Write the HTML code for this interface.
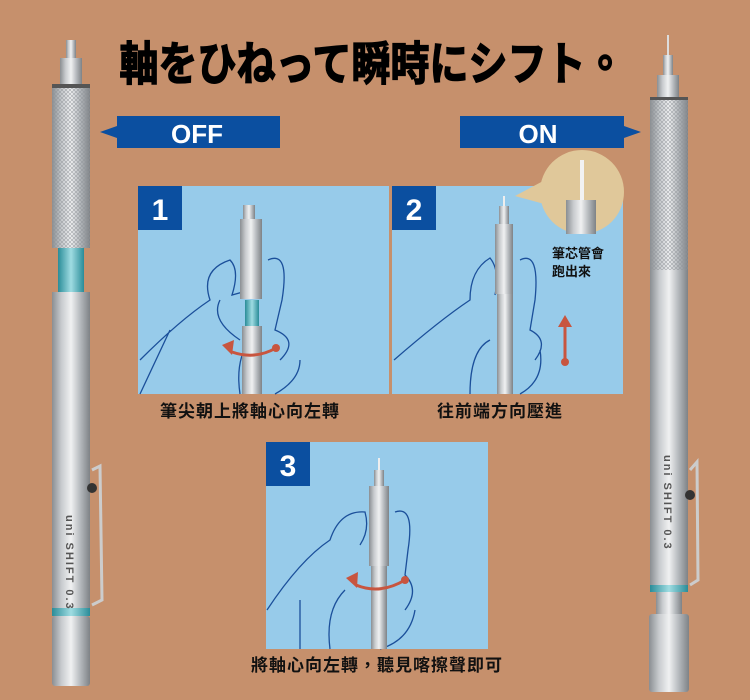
<!DOCTYPE html>
<html><head><meta charset="utf-8"><style>
html,body{margin:0;padding:0;background:#c6906c;}
svg{display:block}
.t{font-family:"Liberation Sans","Noto Sans CJK TC",sans-serif;}
</style></head><body>
<svg width="750" height="700" viewBox="0 0 750 700" xmlns="http://www.w3.org/2000/svg">
<defs>
<linearGradient id="metal" x1="0" x2="1" y1="0" y2="0">
<stop offset="0" stop-color="#8a8e92"/><stop offset="0.25" stop-color="#c8cbce"/><stop offset="0.5" stop-color="#f0f1f2"/><stop offset="0.75" stop-color="#b4b8bc"/><stop offset="1" stop-color="#7e8286"/></linearGradient>
<linearGradient id="teal" x1="0" x2="1"><stop offset="0" stop-color="#2a8c98"/><stop offset="0.5" stop-color="#9fdce2"/><stop offset="1" stop-color="#2a8c98"/></linearGradient>
<pattern id="knurl" width="4" height="4" patternUnits="userSpaceOnUse"><path d="M0 0L4 4M4 0L0 4" stroke="#8f9398" stroke-width="0.6"/></pattern>
</defs>
<rect width="750" height="700" fill="#c6906c"/>
<text x="372" y="80" class="t" font-size="46" font-weight="bold" text-anchor="middle" fill="#000" stroke="#000" stroke-width="1.5" textLength="505" lengthAdjust="spacingAndGlyphs">軸をひねって瞬時にシフト。</text>

<polygon points="117,116 280,116 280,148 117,148 117,138 100,132 117,126" fill="#0b4fa0"/>
<text x="197" y="143" class="t" font-size="26" font-weight="bold" fill="#fff" text-anchor="middle">OFF</text>
<polygon points="460,116 624,116 624,126 641,132 624,138 624,148 460,148" fill="#0b4fa0"/>
<text x="538" y="143" class="t" font-size="26" font-weight="bold" fill="#fff" text-anchor="middle">ON</text>

<g>
<rect x="66" y="40" width="10" height="18" fill="url(#metal)"/>
<rect x="60" y="58" width="22" height="26" fill="url(#metal)"/>
<rect x="52" y="84" width="38" height="4" fill="#555"/>
<rect x="52" y="88" width="38" height="160" fill="url(#metal)"/><rect x="52" y="88" width="38" height="160" fill="url(#knurl)" opacity="0.8"/>
<rect x="58" y="248" width="26" height="44" fill="url(#teal)"/>
<rect x="52" y="292" width="38" height="316" fill="url(#metal)"/>
<rect x="52" y="608" width="38" height="8" fill="url(#teal)"/>
<rect x="52" y="616" width="38" height="70" rx="3" fill="url(#metal)"/>
<path d="M92 470 L100 466 L102 600 L92 605" fill="none" stroke="#ccc" stroke-width="3"/>
<circle cx="92" cy="488" r="5" fill="#333"/>
<text class="t" font-size="11" font-weight="bold" fill="#555" transform="translate(66,515) rotate(90)" letter-spacing="2">uni SHIFT 0.3</text>
</g>
<g>
<rect x="667" y="35" width="2" height="20" fill="#ddd"/>
<rect x="663" y="55" width="10" height="20" fill="url(#metal)"/>
<rect x="657" y="75" width="22" height="22" fill="url(#metal)"/>
<rect x="650" y="97" width="38" height="3" fill="#555"/>
<rect x="650" y="100" width="38" height="170" fill="url(#metal)"/><rect x="650" y="100" width="38" height="170" fill="url(#knurl)" opacity="0.8"/>
<rect x="650" y="270" width="38" height="315" fill="url(#metal)"/>
<rect x="650" y="585" width="38" height="7" fill="url(#teal)"/>
<rect x="656" y="592" width="26" height="22" fill="url(#metal)"/>
<rect x="649" y="614" width="40" height="78" rx="3" fill="url(#metal)"/>
<path d="M690 470 L697 462 L698 580 L690 585" fill="none" stroke="#ccc" stroke-width="3"/>
<circle cx="690" cy="495" r="5" fill="#333"/>
<text class="t" font-size="11" font-weight="bold" fill="#555" transform="translate(664,455) rotate(90)" letter-spacing="2">uni SHIFT 0.3</text>
</g>

<rect x="138" y="186" width="251" height="208" fill="#97cbea"/>
<rect x="138" y="186" width="44" height="44" fill="#0b4fa0"/>
<text x="160" y="220" class="t" font-size="30" font-weight="bold" fill="#fff" text-anchor="middle">1</text>
<g fill="none" stroke="#1b4f9a" stroke-width="1.3">
<path d="M140 360 Q180 320 210 300 Q200 270 230 260 Q240 270 232 295 L250 290 M240 340 Q210 320 220 300 M268 260 Q290 250 282 300 L275 330 Q300 340 280 360 M240 394 Q235 360 250 340 M275 394 Q300 380 300 360 M140 394 L170 330"/>
</g>
<rect x="243" y="205" width="12" height="14" fill="url(#metal)"/>
<rect x="240" y="219" width="22" height="80" fill="url(#metal)"/>
<rect x="245" y="300" width="14" height="26" fill="url(#teal)"/>
<rect x="242" y="326" width="20" height="68" fill="url(#metal)"/>
<path d="M232 352 Q255 360 276 348" fill="none" stroke="#c8553f" stroke-width="3"/>
<polygon points="222,345 234,340 232,355" fill="#c8553f"/><circle cx="276" cy="348" r="4" fill="#c8553f"/>
<text x="250" y="417" class="t" font-size="17" font-weight="bold" fill="#111" text-anchor="middle" letter-spacing="1">筆尖朝上將軸心向左轉</text>

<rect x="392" y="186" width="231" height="208" fill="#97cbea"/>
<rect x="392" y="186" width="44" height="44" fill="#0b4fa0"/>
<text x="414" y="220" class="t" font-size="30" font-weight="bold" fill="#fff" text-anchor="middle">2</text>
<g fill="none" stroke="#1b4f9a" stroke-width="1.3">
<path d="M394 360 Q440 320 470 300 Q470 270 490 258 Q500 270 495 295 M520 260 Q540 250 535 300 L530 330 Q550 340 535 360 M470 394 Q470 350 490 340 M520 394 Q545 380 540 350"/>
</g>
<rect x="503" y="196" width="2" height="10" fill="#eee"/>
<rect x="499" y="206" width="10" height="18" fill="url(#metal)"/>
<rect x="495" y="224" width="18" height="70" fill="url(#metal)"/>
<rect x="497" y="294" width="16" height="100" fill="url(#metal)"/>
<line x1="565" y1="360" x2="565" y2="325" stroke="#c8553f" stroke-width="3"/>
<polygon points="558,327 572,327 565,315" fill="#c8553f"/><circle cx="565" cy="362" r="4" fill="#c8553f"/>
<polygon points="515,196 545,180 548,205" fill="#e0c89a"/>
<circle cx="582" cy="192" r="42" fill="#e0c89a"/>
<rect x="580" y="160" width="4" height="40" fill="#f2f2f2"/>
<rect x="566" y="200" width="30" height="34" fill="url(#metal)"/>
<text x="552" y="258" class="t" font-size="13" font-weight="bold" fill="#111">筆芯管會</text>
<text x="552" y="276" class="t" font-size="13" font-weight="bold" fill="#111">跑出來</text>
<text x="500" y="417" class="t" font-size="17" font-weight="bold" fill="#111" text-anchor="middle" letter-spacing="1">往前端方向壓進</text>

<rect x="266" y="442" width="222" height="207" fill="#97cbea"/>
<rect x="266" y="442" width="44" height="44" fill="#0b4fa0"/>
<text x="288" y="476" class="t" font-size="30" font-weight="bold" fill="#fff" text-anchor="middle">3</text>
<g fill="none" stroke="#1b4f9a" stroke-width="1.3">
<path d="M267 610 Q300 560 330 540 Q340 510 365 512 Q370 530 360 545 M395 512 Q415 505 408 550 L405 575 Q420 590 405 610 M330 649 Q325 610 345 590 M380 649 Q410 640 415 610 M300 649 L300 600"/>
</g>
<rect x="378" y="458" width="2" height="12" fill="#eee"/>
<rect x="374" y="470" width="10" height="16" fill="url(#metal)"/>
<rect x="369" y="486" width="20" height="80" fill="url(#metal)"/>
<rect x="371" y="566" width="16" height="83" fill="url(#metal)"/>
<path d="M356 585 Q380 595 405 580" fill="none" stroke="#c8553f" stroke-width="3"/>
<polygon points="346,578 358,572 357,588" fill="#c8553f"/><circle cx="405" cy="580" r="4" fill="#c8553f"/>
<text x="377" y="671" class="t" font-size="17" font-weight="bold" fill="#111" text-anchor="middle" letter-spacing="1">將軸心向左轉，聽見喀擦聲即可</text>
</svg>
</body></html>
